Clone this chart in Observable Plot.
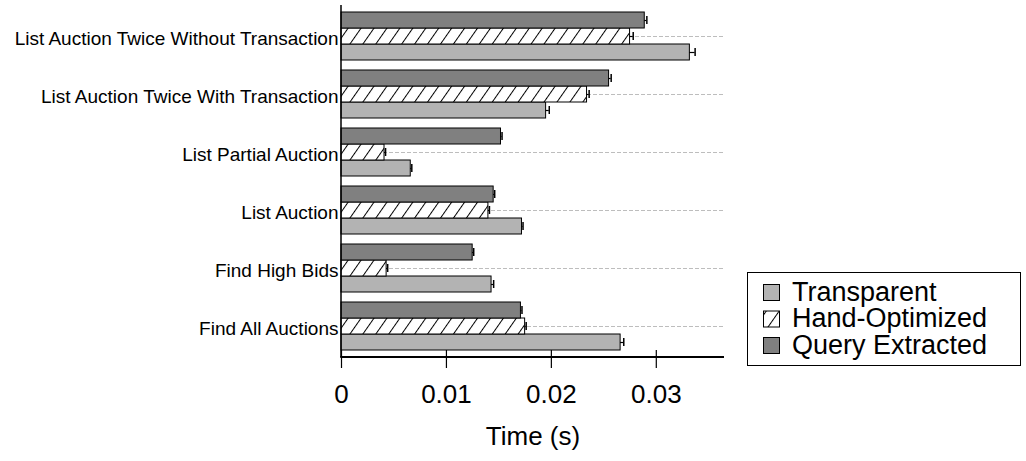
<!DOCTYPE html>
<html>
<head>
<meta charset="utf-8">
<script src="https://cdn.jsdelivr.net/npm/d3@7"></script>
<script src="https://cdn.jsdelivr.net/npm/@observablehq/plot@0.6"></script>
<style>
  html, body { margin: 0; padding: 0; background: #fff; }
  #chart { width: 1026px; height: 461px; }
</style>
</head>
<body>
<div id="chart"></div>
<script>
// Benchmark queries, top to bottom
const categories = [
  "List Auction Twice Without Transaction",
  "List Auction Twice With Transaction",
  "List Partial Auction",
  "List Auction",
  "Find High Bids",
  "Find All Auctions"
];
const series = ["Transparent", "Hand-Optimized", "Query Extracted"];

// Mean time (s) per query
const transparent    = [0.0332, 0.0195, 0.0066, 0.0172, 0.0143, 0.0266];
const handOptimized  = [0.0275, 0.0234, 0.0041, 0.0140, 0.0043, 0.0175];
const queryExtracted = [0.0289, 0.0255, 0.0152, 0.0145, 0.0125, 0.0171];

// Error (s) per query
const transparentErr    = [0.0005, 0.0003, 0.0001, 0.0001, 0.0002, 0.0003];
const handOptimizedErr  = [0.0003, 0.0002, 0.0001, 0.0001, 0.0001, 0.0001];
const queryExtractedErr = [0.0002, 0.0002, 0.0001, 0.0001, 0.0001, 0.0001];

const xTicks = [0, 0.01, 0.02, 0.03];

const LIGHT = "#b3b3b3";
const DARK = "#808080";

const valuesBySeries = {
  "Transparent": [transparent, transparentErr],
  "Hand-Optimized": [handOptimized, handOptimizedErr],
  "Query Extracted": [queryExtracted, queryExtractedErr]
};

const rows = [];
categories.forEach((category, i) => {
  for (const s of series) {
    const [vals, errs] = valuesBySeries[s];
    rows.push({category, series: s, value: vals[i], err: errs[i]});
  }
});

const W = 1026, H = 461;
const mL = 341, mR = 302, mT = 5, mB = 104;
const FONT = "'Liberation Sans', Arial, Helvetica, sans-serif";

const plot = Plot.plot({
  width: W,
  height: H,
  marginLeft: mL,
  marginRight: mR,
  marginTop: mT,
  marginBottom: mB,
  style: {fontFamily: FONT, background: "white", color: "black"},
  x: {domain: [0, 0.0365]},
  y: {domain: ["Query Extracted", "Hand-Optimized", "Transparent"], axis: null, padding: 0},
  fy: {domain: categories, paddingInner: 0.18, paddingOuter: 0.1, label: null},
  color: {domain: series, range: [LIGHT, "url(#hatch)", DARK]},
  marks: [
    Plot.gridFy({stroke: "#bdbdbd", strokeOpacity: 1, strokeDasharray: "4,2", strokeWidth: 1}),
    // error bars sit beneath the bars, so only the upper half shows
    Plot.ruleY(rows, {fy: "category", y: "series", x1: d => d.value - d.err, x2: d => d.value + d.err, stroke: "black", strokeWidth: 1.2}),
    Plot.tickX(rows, {fy: "category", y: "series", x: d => d.value + d.err, stroke: "black", strokeWidth: 1.5, insetTop: 4, insetBottom: 4}),
    Plot.barX(rows, {fy: "category", y: "series", x: "value", fill: "series", stroke: "black", strokeWidth: 1}),
    Plot.axisX({
      ticks: xTicks,
      tickFormat: d => String(d),
      tickSize: 18,
      tickPadding: 16,
      fontSize: 26,
      strokeWidth: 1.2,
      label: "Time (s)",
      labelAnchor: "center",
      labelArrow: "none",
      labelOffset: 94
    }),
    Plot.axisFy({anchor: "left", tickSize: 0, tickPadding: 3, fontSize: 19, dy: 2, label: null})
  ]
});

const svg = d3.select(plot);

// diagonal hatching for the hand-optimized bars
svg.insert("defs", ":first-child")
  .append("pattern")
  .attr("id", "hatch")
  .attr("patternUnits", "userSpaceOnUse")
  .attr("width", 10.6)
  .attr("height", 10)
  .attr("patternTransform", "rotate(35)")
  .call(p => p.append("rect").attr("width", 10.6).attr("height", 10).attr("fill", "white"))
  .call(p => p.append("line").attr("x1", 0.5).attr("x2", 0.5).attr("y1", -1).attr("y2", 11)
    .attr("stroke", "black").attr("stroke-width", 1));

// axis lines along the left and bottom edges of the frame
const x = plot.scale("x");
const x0 = x.apply(0);
const xMax = x.apply(x.domain[1]);
svg.append("line")
  .attr("x1", x0).attr("x2", x0).attr("y1", mT).attr("y2", H - mB)
  .attr("stroke", "black").attr("stroke-width", 1.5);
svg.append("line")
  .attr("x1", x0 - 0.75).attr("x2", xMax).attr("y1", H - mB).attr("y2", H - mB)
  .attr("stroke", "black").attr("stroke-width", 2);

// legend box
const legend = svg.append("g")
  .attr("font-family", FONT)
  .attr("text-anchor", "start");
legend.append("rect")
  .attr("x", 747.5).attr("y", 272.5).attr("width", 273).attr("height", 93)
  .attr("fill", "white").attr("stroke", "black").attr("stroke-width", 1);
const legendFill = {"Transparent": LIGHT, "Hand-Optimized": "url(#hatch)", "Query Extracted": DARK};
series.forEach((s, i) => {
  const top = 284 + i * 26.5;
  legend.append("rect")
    .attr("x", 763.5).attr("y", top + 0.5).attr("width", 16).attr("height", 16)
    .attr("fill", legendFill[s]).attr("stroke", "black").attr("stroke-width", 1);
  legend.append("text")
    .attr("x", 792).attr("y", top + 16.5)
    .attr("text-anchor", "start")
    .attr("font-size", 27)
    .attr("fill", "black")
    .text(s);
});

document.getElementById("chart").appendChild(plot);
</script>
</body>
</html>
